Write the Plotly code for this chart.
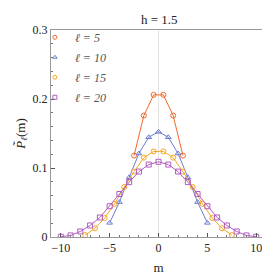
import plotly.graph_objects as go

m5 = [-2.5, -1.5, -0.5, 0.5, 1.5, 2.5]
p5 = [0.118, 0.176, 0.206, 0.206, 0.176, 0.118]

m10 = [-5, -4, -3, -2, -1, 0, 1, 2, 3, 4, 5]
p10 = [0.0205, 0.0506, 0.0865, 0.121, 0.1446, 0.1525, 0.1446, 0.121, 0.0865, 0.0506, 0.0205]

m15 = [-7.5, -6.5, -5.5, -4.5, -3.5, -2.5, -1.5, -0.5, 0.5, 1.5, 2.5, 3.5, 4.5, 5.5, 6.5, 7.5]
p15 = [0.0028, 0.0126, 0.0275, 0.048, 0.0725, 0.0948, 0.115, 0.124,
       0.124, 0.115, 0.0948, 0.0725, 0.048, 0.0275, 0.0126, 0.0028]

m20 = list(range(-10, 11))
p20 = [0.0004, 0.0023, 0.008, 0.0167, 0.0283, 0.0446, 0.0623, 0.0795, 0.0948, 0.105, 0.109,
       0.105, 0.0948, 0.0795, 0.0623, 0.0446, 0.0283, 0.0167, 0.008, 0.0023, 0.0004]

labels = ["<i>ℓ = 5</i>", "<i>ℓ = 10</i>", "<i>ℓ = 15</i>", "<i>ℓ = 20</i>"]
colors = ["#EE6A2A", "#6A7CD0", "#F5A623", "#B05CC0"]
symbols = ["circle-open", "triangle-up-open", "circle-open", "square-open"]
xs = [m5, m10, m15, m20]
ys = [p5, p10, p15, p20]

fig = go.Figure()
for i, (name, x, y, c, sym) in enumerate(zip(labels, xs, ys, colors, symbols)):
    fig.add_trace(go.Scatter(
        x=x, y=y, name=name, mode="lines+markers", showlegend=False,
        legendgroup=f"g{i}",
        line=dict(color=c, width=1),
        marker=dict(symbol=sym, size=5, color=c, line=dict(width=1, color=c)),
    ))
    fig.add_trace(go.Scatter(
        x=[None], y=[None], name=name, mode="markers", showlegend=True,
        legendgroup=f"g{i}",
        marker=dict(symbol=sym, size=4, color=c, line=dict(width=1, color=c)),
    ))

font = "'Liberation Serif', 'Times New Roman', Times, serif"
fig.update_layout(
    width=270, height=276,
    margin=dict(l=43, r=11, t=22, b=39),
    paper_bgcolor="white", plot_bgcolor="white",
    font=dict(family=font, size=12, color="#222"),
    title=dict(text="h = 1.5", x=0.56, xanchor="center", y=0.957, yanchor="middle",
               font=dict(family=font, size=13, color="#222")),
    showlegend=True,
    legend=dict(x=-0.075, y=1.035, xanchor="left", yanchor="top",
                bgcolor="rgba(0,0,0,0)", font=dict(family=font, size=12, color="#555"),
                itemwidth=30, tracegroupgap=1),
    xaxis=dict(range=[-11, 11], tickvals=[-10, -5, 0, 5, 10],
               ticktext=["−10", "−5", "0", "5", "10"],
               ticks="inside", ticklen=4, tickcolor="#555",
               minor=dict(dtick=1, ticks="inside", ticklen=2, tickcolor="#777", showgrid=False),
               showgrid=False, zeroline=True, zerolinecolor="#e4e4e4", zerolinewidth=1,
               showline=True, linecolor="#999", mirror=True,
               title=dict(text="m", standoff=8, font=dict(family=font, size=13)),
               tickfont=dict(family=font, size=12)),
    yaxis=dict(range=[0, 0.3], tickvals=[0, 0.1, 0.2, 0.3], ticktext=["0", "0.1", "0.2", "0.3"],
               ticks="inside", ticklen=4, tickcolor="#555",
               minor=dict(dtick=0.02, ticks="inside", ticklen=2, tickcolor="#777", showgrid=False),
               showgrid=False, zeroline=False,
               showline=True, linecolor="#999", mirror=True,
               title=dict(text="<i>P̃</i><sub><i>ℓ</i></sub>(m)", standoff=4,
                          font=dict(family=font, size=13)),
               tickfont=dict(family=font, size=12)),
)

fig.write_html("out.html")
